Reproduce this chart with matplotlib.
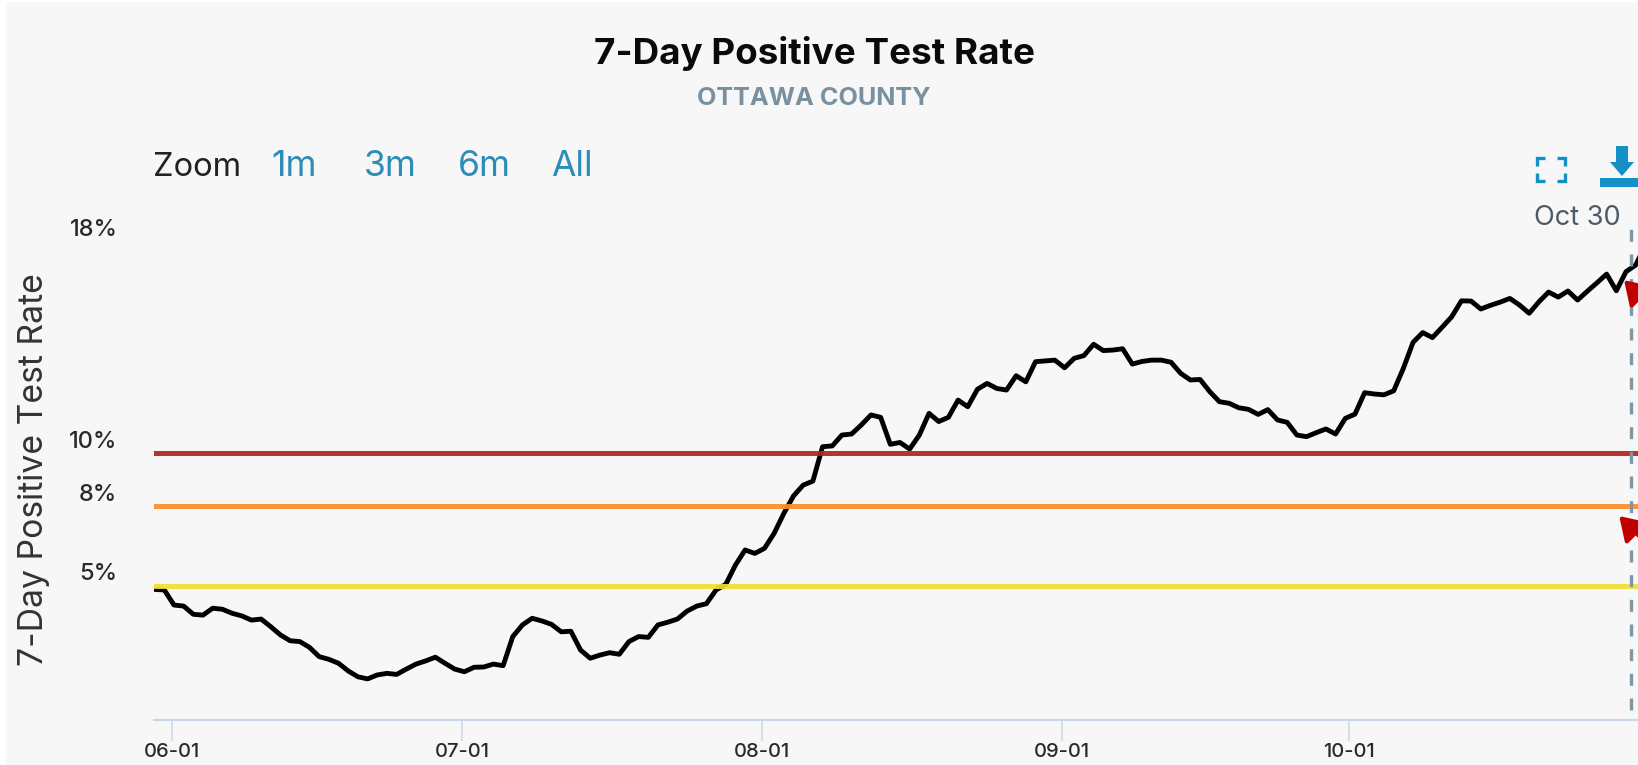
import numpy as np
import matplotlib
matplotlib.use("Agg")
import matplotlib.pyplot as plt
from matplotlib.patches import Rectangle, Polygon
from matplotlib.transforms import ScaledTranslation

rate = [4.86, 4.84,
        4.27, 4.23, 3.92, 3.89, 4.15, 4.11, 3.96, 3.86, 3.70, 3.74, 3.45, 3.14, 2.92, 2.89,
        2.67, 2.32, 2.22, 2.07, 1.78, 1.56, 1.48, 1.63, 1.69, 1.65, 1.85, 2.04, 2.16, 2.30,
        2.07, 1.85, 1.75, 1.92, 1.93, 2.04, 1.98, 3.08, 3.52, 3.77, 3.67, 3.54, 3.26, 3.28,
        2.57, 2.26, 2.38, 2.47, 2.41, 2.89, 3.08, 3.05, 3.52, 3.62, 3.74, 4.04, 4.23, 4.32,
        4.84, 5.05, 5.78, 6.35, 6.22, 6.41, 6.98, 7.73, 8.39, 8.80, 8.95, 10.25, 10.28, 10.69,
        10.73, 11.07, 11.45, 11.36, 10.34, 10.41, 10.16, 10.69, 11.51, 11.20, 11.36, 12.01,
        11.76, 12.42, 12.64, 12.45, 12.39, 12.93, 12.70, 13.46, 13.49, 13.52, 13.23, 13.59,
        13.69, 14.12, 13.88, 13.90, 13.95, 13.37, 13.47, 13.52, 13.52, 13.44, 13.02, 12.77,
        12.79, 12.33, 11.95, 11.89, 11.72, 11.66, 11.47, 11.65, 11.26, 11.17, 10.69, 10.63,
        10.78, 10.92, 10.73, 11.32, 11.48, 12.29, 12.24, 12.21, 12.36, 13.21, 14.19, 14.56,
        14.37, 14.76, 15.16, 15.76, 15.75, 15.45, 15.59, 15.71, 15.85, 15.60, 15.29, 15.72,
        16.09, 15.90, 16.13, 15.79, 16.12, 16.44, 16.77, 16.14, 16.86, 17.11, 17.85]
first_day = -2  # days relative to June 1
thresholds = [5, 8, 10]
threshold_colors = ["#f3dc36", "#f98e2b", "#b3231a"]
ytick_values = [5, 8, 10, 18]
ytick_labels = ["5%", "8%", "10%", "18%"]
xtick_days = [-0.2, 29.8, 60.7, 91.7, 121.4]
xtick_labels = ["06-01", "07-01", "08-01", "09-01", "10-01"]
marker_day = 150.5
marker_label = "Oct 30"
zoom_labels = ["1m", "3m", "6m", "All"]

W, H = 1638, 765
BG = "#f7f7f7"
plt.rcParams["font.family"] = ["Inter", "DejaVu Sans"]
fig = plt.figure(figsize=(W / 100, H / 100), dpi=100, facecolor="white")
fig.patches.append(Rectangle((6 / W, 0), 1, 1 - 2 / H, transform=fig.transFigure, facecolor=BG, edgecolor="none", zorder=-5))

L, R, T, B = 153.6, 1638, 210, 720
ax = fig.add_axes([L / W, (H - B) / H, (R - L) / W, (B - T) / H], facecolor="none")
days = first_day + np.arange(len(rate))
ax.plot(days, rate, color="black", lw=3.5, solid_joinstyle="round", zorder=2)
for value, colour in zip(thresholds, threshold_colors):
    ax.axhline(value, color=colour, lw=3.6, alpha=0.92, zorder=3)
ax.set_xlim(-2.107, 151.24)
ax.set_ylim(-0.072, 19.19)

for side in ("left", "right", "top"):
    ax.spines[side].set_visible(False)
ax.spines["bottom"].set_color("#ccd6eb")
ax.spines["bottom"].set_linewidth(1.5)
ax.set_xticks(xtick_days)
ax.set_xticklabels(xtick_labels, fontsize=14.5, color="#2a2a2a", fontweight="medium")
ax.tick_params(axis="x", length=15, width=1.1, color="#ccd6eb", pad=1.5)
ax.set_yticks(ytick_values)
ax.set_yticklabels(ytick_labels, fontsize=17, color="#2a2a2a", fontweight="medium")
ax.tick_params(axis="y", length=0, pad=26)
shift = ScaledTranslation(0, 14 / 100, fig.dpi_scale_trans)
for lab in ax.get_yticklabels():
    lab.set_transform(lab.get_transform() + shift)

ax.axvline(marker_day, ymin=(B - 710) / (B - T), ymax=(B - 223) / (B - T), color="#7d97a4", lw=2.4,
           dashes=(3.6, 3.8), zorder=4)
for d, v, off in [(149.8, 16.54, 40), (149.3, 7.63, 40)]:
    ax.annotate("", xy=(d, v), xytext=(off, -off), textcoords="offset points", annotation_clip=False,
                arrowprops=dict(arrowstyle="-|>,head_length=14,head_width=9", mutation_scale=1,
                                color="#c00000", lw=3, shrinkA=0, shrinkB=0), zorder=5)

ov = fig.add_axes([0, 0, 1, 1], facecolor="none")
ov.set_xlim(0, W)
ov.set_ylim(H, 0)
ov.axis("off")
ov.text(814, 53, "7-Day Positive Test Rate", ha="center", va="center", fontsize=26.5, fontweight="bold", color="#0a0a0a")
ov.text(814, 98, "OTTAWA COUNTY", ha="center", va="center", fontsize=18.2, fontweight="bold", color="#78909f")
ov.text(197, 167, "Zoom", ha="center", va="center", fontsize=23.5, color="#222222")
for x, lab in zip([294.5, 390, 484, 572], zoom_labels):
    ov.text(x, 166, lab, ha="center", va="center", fontsize=25.5, color="#2e8cb8")
ov.text(1577, 218, marker_label, ha="center", va="center", fontsize=19.5, color="#4c5a66")
ov.text(34, 470, "7-Day Positive Test Rate", rotation=90, ha="center", va="center", fontsize=24.3, color="#333333")

# Toolbar icons
blue = "#1490c8"
x0, x1, y0, y1 = 1537, 1565, 158, 181
c = 8
for px, py, dx, dy in [(x0, y0, 1, 1), (x1, y0, -1, 1), (x0, y1, 1, -1), (x1, y1, -1, -1)]:
    ov.plot([px + dx * c, px, px], [py, py, py + dy * c], color=blue, lw=2.4, solid_joinstyle="miter", solid_capstyle="butt")
ov.add_patch(Rectangle((1600, 178), 45, 9, facecolor=blue, edgecolor="none"))
ov.add_patch(Polygon([[1616, 146], [1628, 146], [1628, 162], [1634, 162], [1622, 176], [1610, 162], [1616, 162]],
                     closed=True, facecolor=blue, edgecolor="none"))

fig.savefig("out.png", dpi=100, facecolor=fig.get_facecolor())
